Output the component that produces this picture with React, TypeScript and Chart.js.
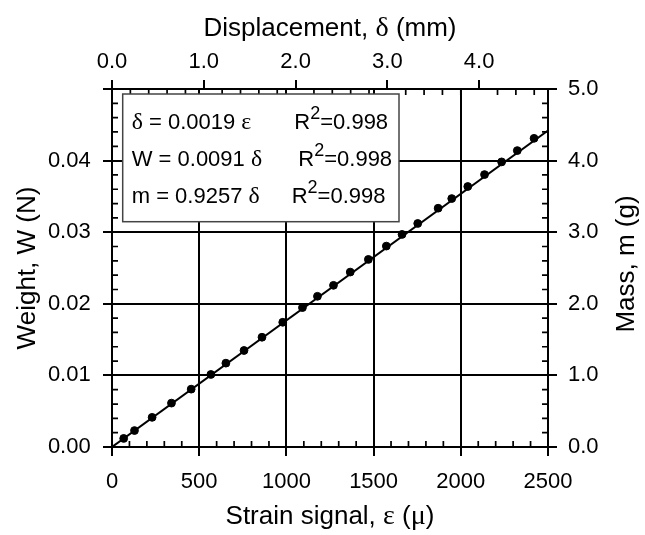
import React, { useEffect, useRef } from "react";
import { Chart, registerables } from "chart.js";

Chart.register(...registerables);

// ---- data ----
const strainValues = [67, 129, 230, 341, 454, 567, 653, 757, 860, 979, 1092, 1178, 1270, 1366, 1470, 1573, 1663, 1753, 1870, 1948, 2040, 2136, 2234, 2324, 2420];
const weightValues = [0.0012, 0.0023, 0.00414, 0.00613, 0.00808, 0.01013, 0.01171, 0.01348, 0.01533, 0.01742, 0.01947, 0.02105, 0.02258, 0.02443, 0.0262, 0.02806, 0.02969, 0.03122, 0.03335, 0.0347, 0.03638, 0.03805, 0.03982, 0.0414, 0.04311];
const fitStrain = [0, 2500];
const fitWeight = [0, 0.0442];

// ---- axes ----
const strainMin = 0;
const strainMax = 2500;
const deltaPerStrain = 0.0019;
const weightMax = 0.05;
const massMax = 5;

const strainTicks = [0, 500, 1000, 1500, 2000, 2500];
const strainTickLabels = ["0", "500", "1000", "1500", "2000", "2500"];
const weightTicks = [0, 0.01, 0.02, 0.03, 0.04, 0.05];
const weightTickLabels = ["0.00", "0.01", "0.02", "0.03", "0.04", ""];
const displacementTicks = [0, 1, 2, 3, 4];
const displacementTickLabels = ["0.0", "1.0", "2.0", "3.0", "4.0"];
const massTicks = [0, 1, 2, 3, 4, 5];
const massTickLabels = ["0.0", "1.0", "2.0", "3.0", "4.0", "5.0"];

const strainMinorStep = 100;
const weightMinorStep = 0.002;
const displacementMinorStep = 0.2;
const massMinorStep = 0.2;

// ---- texts ----
type Seg = { t: string; serif?: boolean; sup?: boolean };
const topTitle: Seg[] = [{ t: "Displacement, " }, { t: "δ", serif: true }, { t: " (mm)" }];
const bottomTitle: Seg[] = [{ t: "Strain signal, " }, { t: "ε", serif: true }, { t: " (" }, { t: "μ", serif: true }, { t: ")" }];
const leftTitle: Seg[] = [{ t: "Weight, W (N)" }];
const rightTitle: Seg[] = [{ t: "Mass, m (g)" }];
const equationLines: Seg[][] = [
  [{ t: "δ", serif: true }, { t: " = 0.0019 " }, { t: "ε", serif: true }],
  [{ t: "W = 0.0091 " }, { t: "δ", serif: true }],
  [{ t: "m = 0.9257 " }, { t: "δ", serif: true }],
];
const r2Values = ["0.998", "0.998", "0.998"];

const SANS = "'Liberation Sans', Arial, sans-serif";
const SERIF = "'Liberation Serif', 'Times New Roman', serif";

function minorValues(max: number, step: number, major: number): number[] {
  const out: number[] = [];
  const n = Math.round(max / step);
  for (let i = 1; i <= n; i++) {
    const v = i * step;
    const r = v / major;
    if (Math.abs(r - Math.round(r)) < 1e-6) continue;
    if (v > max + 1e-9) continue;
    out.push(v);
  }
  return out;
}

function drawSegs(ctx: CanvasRenderingContext2D, segs: Seg[], x: number, y: number, size: number, align: "left" | "center") {
  const fontOf = (s: Seg) => {
    const sz = s.sup ? Math.round(size * 0.8) : s.serif ? size * 1.08 : size;
    return `${sz}px ${s.serif ? SERIF : SANS}`;
  };
  let total = 0;
  const widths = segs.map((s) => {
    ctx.font = fontOf(s);
    const w = ctx.measureText(s.t).width;
    total += w;
    return w;
  });
  let cx = align === "center" ? x - total / 2 : x;
  ctx.textAlign = "left";
  ctx.textBaseline = "alphabetic";
  segs.forEach((s, i) => {
    ctx.font = fontOf(s);
    ctx.fillText(s.t, cx, s.sup ? y - size * 0.47 : y);
    cx += widths[i];
  });
  return total;
}

const decorPlugin = {
  id: "decor",
  afterDraw(chart: any) {
    const ctx: CanvasRenderingContext2D = chart.ctx;
    const { x, y, x2, y2 } = chart.scales;
    const a = chart.chartArea;
    ctx.save();
    // minor ticks (inward)
    ctx.strokeStyle = "#000";
    ctx.lineWidth = 1.7;
    ctx.beginPath();
    const tl = 6;
    minorValues(strainMax, strainMinorStep, 500).forEach((v) => {
      const p = x.getPixelForValue(v);
      ctx.moveTo(p, a.bottom);
      ctx.lineTo(p, a.bottom - tl);
    });
    minorValues(strainMax * deltaPerStrain, displacementMinorStep, 1).forEach((v) => {
      const p = x2.getPixelForValue(v);
      ctx.moveTo(p, a.top);
      ctx.lineTo(p, a.top + tl);
    });
    minorValues(weightMax, weightMinorStep, 0.01).forEach((v) => {
      const p = y.getPixelForValue(v);
      ctx.moveTo(a.left, p);
      ctx.lineTo(a.left + tl, p);
    });
    minorValues(massMax, massMinorStep, 1).forEach((v) => {
      const p = y2.getPixelForValue(v);
      ctx.moveTo(a.right, p);
      ctx.lineTo(a.right - tl, p);
    });
    ctx.stroke();

    // legend box
    const bx = 122.7, by = 94, bw = 399 - 122.7, bh = 221.7 - 94;
    ctx.fillStyle = "#fff";
    ctx.fillRect(bx, by, bw, bh);
    ctx.strokeStyle = "#444";
    ctx.lineWidth = 1.5;
    ctx.strokeRect(bx, by, bw, bh);
    ctx.fillStyle = "#000";
    const fs = 22;
    const baselines = [129.2, 166.2, 203.2];
    const r2x = [294.3, 298.3, 291.7];
    equationLines.forEach((segs, i) => {
      drawSegs(ctx, segs, 131.7, baselines[i], fs, "left");
      drawSegs(ctx, [{ t: "R" }, { t: "2", sup: true }, { t: "=" + r2Values[i] }], r2x[i], baselines[i], fs, "left");
    });

    // titles
    const ts = 26;
    const cx = (a.left + a.right) / 2;
    const cy = (a.top + a.bottom) / 2;
    drawSegs(ctx, topTitle, cx, 26.5 + 0.358 * ts, ts, "center");
    drawSegs(ctx, bottomTitle, cx, 515 + 0.358 * ts, ts, "center");
    ctx.save();
    ctx.translate(26 + 0.358 * ts, cy);
    ctx.rotate(-Math.PI / 2);
    drawSegs(ctx, leftTitle, 0, 0, ts, "center");
    ctx.restore();
    ctx.save();
    ctx.translate(625 + 0.358 * ts, cy - 4);
    ctx.rotate(-Math.PI / 2);
    drawSegs(ctx, rightTitle, 0, 0, ts, "center");
    ctx.restore();
    ctx.restore();
  },
};

const W = 645;
const H = 535;
const AREA = { left: 112, right: 548, top: 89, bottom: 447 };
const tickFont = { family: SANS, size: 22 };

export default function App() {
  const ref = useRef<HTMLCanvasElement | null>(null);
  useEffect(() => {
    if (!ref.current) return;
    const chart = new Chart(ref.current, {
      type: "scatter",
      data: {
        datasets: [
          {
            label: "Measured",
            data: strainValues.map((s, i) => ({ x: s, y: weightValues[i] })),
            backgroundColor: "#000",
            borderColor: "#000",
            pointRadius: 3.9,
            pointBorderWidth: 1,
            showLine: false,
            xAxisID: "x",
            yAxisID: "y",
          },
          {
            label: "Fit",
            data: fitStrain.map((s, i) => ({ x: s, y: fitWeight[i] })),
            borderColor: "#000",
            backgroundColor: "#000",
            borderWidth: 2,
            pointRadius: 0,
            showLine: true,
            xAxisID: "x",
            yAxisID: "y",
          },
        ],
      },
      options: {
        responsive: false,
        animation: false,
        layout: { padding: 0 },
        plugins: { legend: { display: false }, tooltip: { enabled: false }, title: { display: false } },
        scales: {
          x: {
            type: "linear",
            position: "bottom",
            min: strainMin,
            max: strainMax,
            afterBuildTicks: (s: any) => { s.ticks = strainTicks.map((v) => ({ value: v })); },
            afterFit: (s: any) => { s.height = H - AREA.bottom; },
            ticks: { callback: (_v: any, i: number) => strainTickLabels[i], font: tickFont, color: "#000", padding: 12.3, maxRotation: 0, autoSkip: false },
            grid: { color: "#000", lineWidth: 2, drawTicks: true, tickLength: 9, tickColor: "#000", tickWidth: 2 },
            border: { display: true, color: "#000", width: 2 },
          },
          x2: {
            type: "linear",
            position: "top",
            min: 0,
            max: strainMax * deltaPerStrain,
            afterBuildTicks: (s: any) => { s.ticks = displacementTicks.map((v) => ({ value: v })); },
            afterFit: (s: any) => { s.height = AREA.top; },
            ticks: { callback: (_v: any, i: number) => displacementTickLabels[i], font: tickFont, color: "#000", padding: 4.8, maxRotation: 0, autoSkip: false },
            grid: { drawOnChartArea: false, color: "#000", lineWidth: 2, drawTicks: true, tickLength: 9, tickColor: "#000", tickWidth: 2 },
            border: { display: true, color: "#000", width: 2 },
          },
          y: {
            type: "linear",
            position: "left",
            min: 0,
            max: weightMax,
            afterBuildTicks: (s: any) => { s.ticks = weightTicks.map((v) => ({ value: v })); },
            afterFit: (s: any) => { s.width = AREA.left; },
            ticks: { callback: (_v: any, i: number) => weightTickLabels[i], font: tickFont, color: "#000", padding: 12.3, autoSkip: false },
            grid: { color: "#000", lineWidth: 2, drawTicks: true, tickLength: 9, tickColor: "#000", tickWidth: 2 },
            border: { display: true, color: "#000", width: 2 },
          },
          y2: {
            type: "linear",
            position: "right",
            min: 0,
            max: massMax,
            afterBuildTicks: (s: any) => { s.ticks = massTicks.map((v) => ({ value: v })); },
            afterFit: (s: any) => { s.width = W - AREA.right; },
            ticks: { callback: (_v: any, i: number) => massTickLabels[i], font: tickFont, color: "#000", padding: 11, autoSkip: false },
            grid: { drawOnChartArea: false, color: "#000", lineWidth: 2, drawTicks: true, tickLength: 9, tickColor: "#000", tickWidth: 2 },
            border: { display: true, color: "#000", width: 2 },
          },
        },
      } as any,
      plugins: [decorPlugin],
    });
    return () => chart.destroy();
  }, []);
  return (
    <div style={{ position: "absolute", left: 0, top: 0, width: W, height: H, background: "#fff" }}>
      <canvas ref={ref} width={W} height={H} style={{ display: "block" }} />
    </div>
  );
}
